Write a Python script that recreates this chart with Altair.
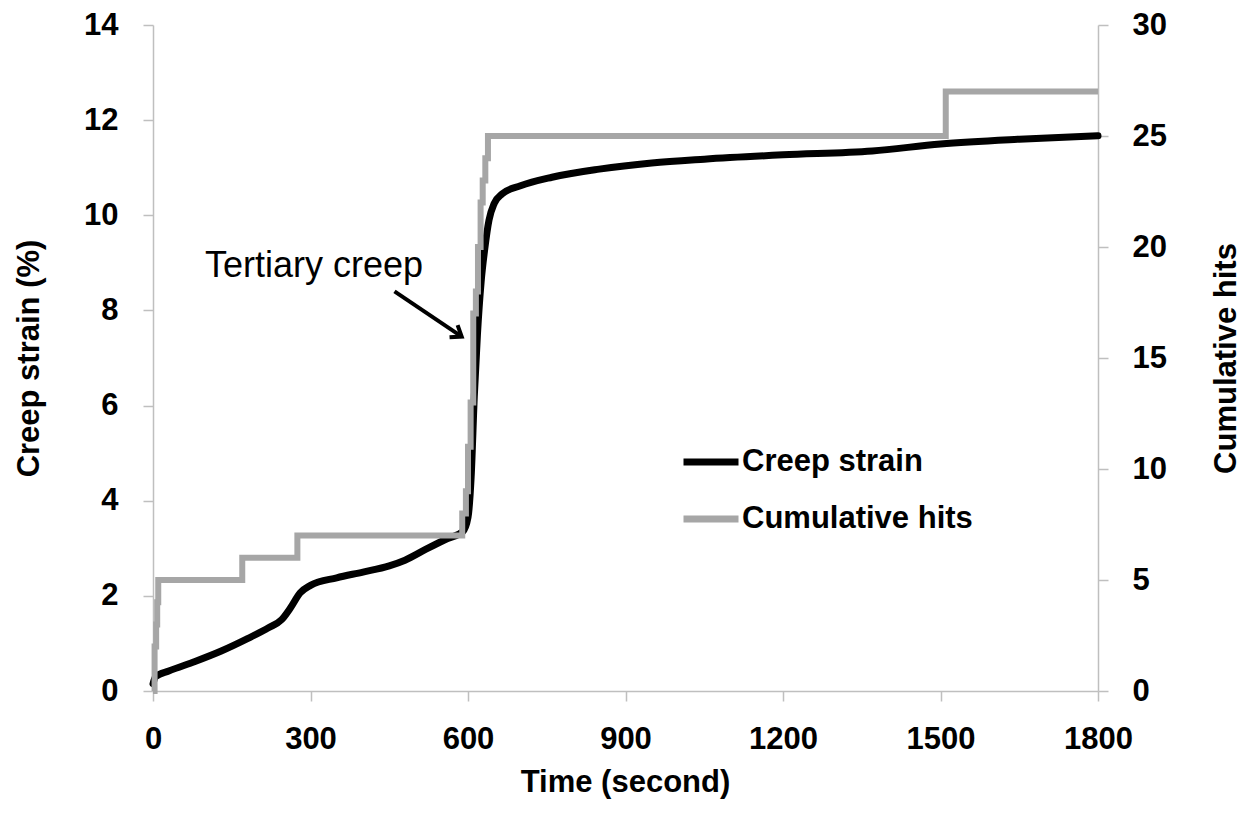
import altair as alt
import pandas as pd

# Creep strain (%) vs time (s)
strain_time = [0, 5, 30, 80, 130, 180, 220, 245, 262, 280, 300, 350, 400, 450, 480, 520, 560, 590,
               600, 606, 612, 618, 625, 632, 640, 650, 665, 700, 760, 850, 950, 1050, 1200, 1370,
               1500, 1650, 1800]
strain_vals = [0.15, 0.3, 0.42, 0.62, 0.84, 1.1, 1.33, 1.5, 1.75, 2.06, 2.22, 2.38, 2.5, 2.63, 2.75,
               2.98, 3.2, 3.35, 3.65, 4.5, 6.2, 7.5, 8.6, 9.3, 9.9, 10.25, 10.45, 10.62, 10.8, 10.97,
               11.1, 11.18, 11.27, 11.35, 11.5, 11.6, 11.67]

# Cumulative hits (step series)
hits_time = [0, 3, 6, 8, 10, 170, 275, 589, 596, 600, 605, 610, 615, 619, 624, 628, 633, 638, 642, 1510, 1800]
hits_vals = [0, 2, 3, 4, 5, 6, 7, 8, 9, 11, 13, 17, 18, 20, 22, 23, 24, 25, 25, 27, 27]

series_names = ["Creep strain", "Cumulative hits"]
series_colors = ["#000000", "#a6a6a6"]

x_ticks = [0, 300, 600, 900, 1200, 1500, 1800]
left_ticks = [0, 2, 4, 6, 8, 10, 12, 14]
right_ticks = [0, 5, 10, 15, 20, 25, 30]

# annotation
note_text = ["Tertiary creep"]
note_time = [99]
note_strain = [8.71]
arrow_time = [460, 588]
arrow_strain = [8.40, 7.45]

strain_df = pd.DataFrame({"time": strain_time, "strain": strain_vals, "series": series_names[0]})
hits_df = pd.DataFrame({"time": hits_time, "hits": hits_vals, "series": series_names[1]})
note_df = pd.DataFrame({"time": note_time, "strain": note_strain, "label": note_text})
arrow_df = pd.DataFrame({"time": arrow_time, "strain": arrow_strain})
head_df = arrow_df.tail(1)

FONT = "Liberation Sans"

x_enc = alt.X("time:Q", scale=alt.Scale(domain=[0, 1800], nice=False),
              axis=alt.Axis(values=x_ticks, format="d", title="Time (second)", labelPadding=23,
                            titleX=472, titleY=91, titleBaseline="middle"))
y_left = alt.Y("strain:Q", scale=alt.Scale(domain=[0, 14], nice=False),
               axis=alt.Axis(values=left_ticks, format="d", title="Creep strain (%)", orient="left",
                             labelPadding=25, titleX=-124, titleY=333, titleAngle=270,
                             titleBaseline="middle", titleAlign="center"))
y_right = alt.Y("hits:Q", scale=alt.Scale(domain=[0, 30], nice=False),
                axis=alt.Axis(values=right_ticks, format="d", title="Cumulative hits", orient="right",
                              labelPadding=24, titleX=128, titleY=333, titleAngle=270,
                              titleBaseline="middle", titleAlign="center"))

color_enc = alt.Color("series:N", scale=alt.Scale(domain=series_names, range=series_colors),
                      legend=alt.Legend(title=None, orient="none", legendX=527, legendY=406,
                                        symbolType="stroke", symbolSize=3025, symbolStrokeWidth=7,
                                        labelFont=FONT, labelFontSize=31, labelFontWeight="bold",
                                        labelColor="black", labelOffset=0, rowPadding=11, padding=0,
                                        labelLimit=0))

strain_line = alt.Chart(strain_df).mark_line(strokeWidth=7, interpolate="monotone", strokeCap="round").encode(
    x=x_enc, y=y_left, color=color_enc)

arrow_line = alt.Chart(arrow_df).mark_line(color="black", strokeWidth=4).encode(
    x="time:Q", y="strain:Q")
arrow_head = alt.Chart(head_df).mark_point(
    shape="M -1 -0.75 L 0 0 L -1 0.75", filled=False, color="black", strokeWidth=4,
    size=380, angle=33.5, opacity=1, strokeJoin="miter").encode(x="time:Q", y="strain:Q")
note = alt.Chart(note_df).mark_text(font=FONT, fontSize=36, align="left", baseline="alphabetic",
                                    color="black").encode(x="time:Q", y="strain:Q", text="label:N")

left = alt.layer(strain_line, arrow_line, arrow_head, note)

hits_line = alt.Chart(hits_df).mark_line(strokeWidth=6, interpolate="step-after").encode(
    x="time:Q", y=y_right, color=color_enc)

chart = alt.layer(left, hits_line).resolve_scale(y="independent").properties(
    width=945, height=666,
    autosize=alt.AutoSizeParams(type="none"),
    padding={"left": 145, "top": 17, "right": 145, "bottom": 125},
).configure_view(stroke=None).configure_axis(
    grid=False, domainColor="#bfbfbf", tickColor="#bfbfbf", domainWidth=1.5, tickWidth=1.5,
    tickSize=10, labelFont=FONT, labelFontSize=31, labelFontWeight="bold", labelColor="black",
    labelFlush=False, labelOverlap=False,
    titleFont=FONT, titleFontSize=31, titleFontWeight="bold", titleColor="black",
)

chart.save("out.html", embed_options={"renderer": "svg", "actions": False})
